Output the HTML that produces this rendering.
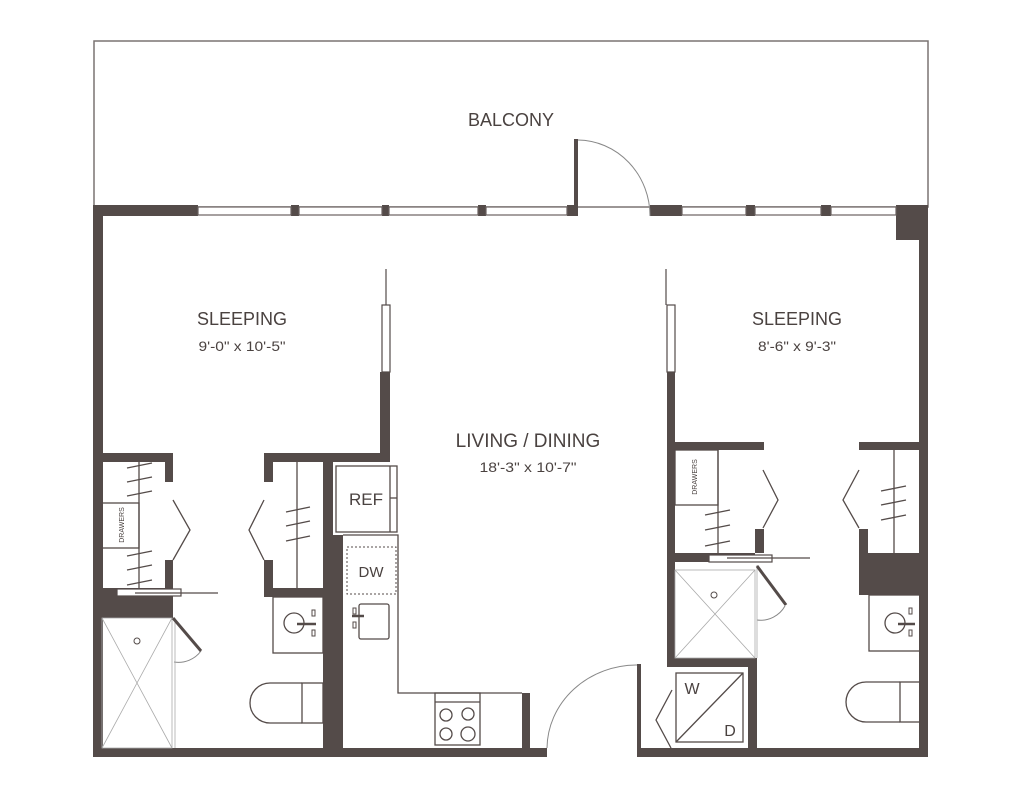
<!DOCTYPE html>
<html><head><meta charset="utf-8"><style>
html,body{margin:0;padding:0;background:#fff;}
svg{display:block;}
text{font-family:"Liberation Sans",sans-serif;fill:#4a4240;}
</style></head><body>
<svg width="1024" height="799" viewBox="0 0 1024 799" xmlns="http://www.w3.org/2000/svg">
<g fill="none" stroke="#7a7372" stroke-width="1.5">
<rect x="94" y="41" width="834" height="166"/>
</g>
<g fill="#544b49">
<rect x="93" y="205" width="105" height="11"/>
<rect x="291" y="205" width="8" height="11"/>
<rect x="382" y="205" width="7" height="11"/>
<rect x="478" y="205" width="8" height="11"/>
<rect x="567" y="205" width="10" height="11"/>
<rect x="574" y="139" width="4" height="77"/>
<rect x="650" y="205" width="32" height="11"/>
<rect x="746" y="205" width="9" height="11"/>
<rect x="821" y="205" width="10" height="11"/>
<rect x="896" y="205" width="32" height="35"/>
<rect x="93" y="205" width="10" height="552"/>
<rect x="919" y="205" width="9" height="552"/>
<rect x="93" y="748" width="454" height="9"/>
<rect x="637" y="748" width="291" height="9"/>
<rect x="380" y="372" width="10" height="90"/>
<rect x="264" y="453" width="126" height="9"/>
<rect x="93" y="453" width="80" height="9"/>
<rect x="165" y="453" width="8" height="29"/>
<rect x="165" y="560" width="8" height="28"/>
<rect x="264" y="453" width="9" height="29"/>
<rect x="264" y="560" width="9" height="28"/>
<rect x="93" y="588" width="80" height="30"/>
<rect x="264" y="588" width="60" height="9"/>
<rect x="323" y="453" width="10" height="304"/>
<rect x="323" y="535" width="20" height="222"/>
<rect x="522" y="693" width="8" height="64"/>
<rect x="637" y="664" width="4" height="93"/>
<rect x="667" y="372" width="8" height="295"/>
<rect x="667" y="442" width="97" height="8"/>
<rect x="859" y="442" width="69" height="8"/>
<rect x="755" y="529" width="9" height="24"/>
<rect x="667" y="553" width="88" height="9"/>
<rect x="859" y="529" width="9" height="24"/>
<rect x="859" y="553" width="69" height="42"/>
<rect x="667" y="658" width="90" height="9"/>
<rect x="748" y="658" width="9" height="99"/>
</g>
<g fill="#fff" stroke="#6a6260" stroke-width="1.2">
<rect x="198" y="207" width="93" height="8"/>
<rect x="299" y="207" width="83" height="8"/>
<rect x="389" y="207" width="89" height="8"/>
<rect x="486" y="207" width="81" height="8"/>
<rect x="682" y="207" width="64" height="8"/>
<rect x="755" y="207" width="66" height="8"/>
<rect x="831" y="207" width="65" height="8"/>
</g>
<g fill="none" stroke="#888" stroke-width="1">
<path d="M578 140 A73 76 0 0 1 650 216"/>
<path d="M637 665 A90 84 0 0 0 547 748"/>
<path d="M201 651 A28 28 0 0 1 174 662"/>
<path d="M785 606 A28 28 0 0 1 757 620"/>
</g>
<g stroke="#544b49" fill="#fff" stroke-width="1.2">
<line x1="386" y1="269" x2="386" y2="305"/>
<rect x="382" y="305" width="8" height="67"/>
<line x1="666" y1="269" x2="666" y2="305"/>
<rect x="667" y="305" width="8" height="67"/>
<rect x="117" y="589" width="64" height="7"/>
<line x1="135" y1="593" x2="218" y2="593"/>
<rect x="709" y="555" width="63" height="7"/>
<line x1="727" y1="558" x2="810" y2="558"/>
</g>
<g stroke="#544b49" fill="none" stroke-width="1.3">
<line x1="139" y1="462" x2="139" y2="588"/>
<rect x="102" y="503" width="37" height="45"/>
<path d="M127 468 L152 463 M127 482 L152 477 M127 496 L152 491 M127 556 L152 551 M127 570 L152 565 M127 585 L152 580"/>
<path d="M173 500 L190 530 L173 560"/>
<line x1="297" y1="462" x2="297" y2="588"/>
<path d="M286 512 L310 507 M286 526 L310 521 M286 541 L310 536"/>
<path d="M264 500 L249 530 L264 560"/>
<line x1="718" y1="450" x2="718" y2="553"/>
<rect x="675" y="450" width="43" height="55"/>
<path d="M705 515 L730 510 M705 530 L730 525 M705 546 L730 541"/>
<path d="M763 470 L778 500 L763 528"/>
<line x1="894" y1="450" x2="894" y2="553"/>
<path d="M881 491 L906 486 M881 505 L906 500 M881 520 L906 515"/>
<path d="M859 470 L843 500 L859 528"/>
<rect x="336" y="466" width="61" height="66"/>
<line x1="390" y1="466" x2="390" y2="532"/>
<line x1="390" y1="498" x2="397" y2="498"/>
<path d="M343 535 L398 535 L398 693 L522 693"/>
<rect x="359" y="604" width="30" height="35" rx="2"/>
<path d="M352 616 L364 616" stroke-width="2.5"/>
<rect x="435" y="693" width="45" height="52"/>
<line x1="435" y1="702" x2="480" y2="702"/>
<circle cx="446" cy="715" r="6"/><circle cx="468" cy="714" r="6"/>
<circle cx="446" cy="734" r="6"/><circle cx="468" cy="734" r="7"/>
<rect x="273" y="597" width="50" height="56"/>
<circle cx="294" cy="623" r="10"/>
<path d="M297 624 L316 624" stroke-width="2.5"/>
<rect x="302" y="683" width="21" height="40"/>
<path d="M302 683 L270 683 A20 20 0 0 0 270 723 L302 723"/>
<rect x="869" y="595" width="51" height="56"/>
<circle cx="895" cy="623" r="10"/>
<path d="M898 624 L915 624" stroke-width="2.5"/>
<rect x="900" y="682" width="20" height="40"/>
<path d="M900 682 L866 682 A20 20 0 0 0 866 722 L900 722"/>
<rect x="676" y="673" width="67" height="69"/>
<line x1="676" y1="742" x2="743" y2="673"/>
<path d="M672 690 L656 720 L671 748"/>
</g>
<g stroke="#544b49" fill="none" stroke-width="1" stroke-dasharray="2,2">
<rect x="347" y="547" width="49" height="47"/>
</g>
<g fill="#fff" stroke="#544b49" stroke-width="1">
<rect x="312" y="610" width="3" height="6"/><rect x="312" y="630" width="3" height="6"/>
<rect x="353" y="608" width="3" height="6"/><rect x="353" y="622" width="3" height="6"/>
<rect x="909" y="608" width="3" height="6"/><rect x="909" y="630" width="3" height="6"/>
</g>
<g stroke="#aaa" fill="none" stroke-width="0.8">
<rect x="102" y="618" width="70" height="130"/>
<path d="M102 618 L172 748 M172 618 L102 748"/>
<line x1="175" y1="618" x2="175" y2="748"/>
<rect x="675" y="570" width="80" height="88"/>
<path d="M675 570 L755 658 M755 570 L675 658"/>
<line x1="757" y1="565" x2="757" y2="658"/>
</g>
<g stroke="#544b49" fill="none">
<circle cx="137" cy="641" r="3" stroke-width="1"/>
<circle cx="714" cy="595" r="3" stroke-width="1"/>
<line x1="173" y1="618" x2="201" y2="651" stroke-width="3"/>
<line x1="757" y1="566" x2="786" y2="605" stroke-width="3"/>
</g>
<text x="511" y="126" font-size="18" text-anchor="middle">BALCONY</text>
<text x="242" y="325" font-size="18" text-anchor="middle">SLEEPING</text>
<text x="242" y="351" font-size="14" text-anchor="middle" textLength="87" lengthAdjust="spacingAndGlyphs">9'-0" x 10'-5"</text>
<text x="797" y="325" font-size="18" text-anchor="middle">SLEEPING</text>
<text x="797" y="351" font-size="14" text-anchor="middle" textLength="78" lengthAdjust="spacingAndGlyphs">8'-6" x 9'-3"</text>
<text x="528" y="447" font-size="19" text-anchor="middle">LIVING / DINING</text>
<text x="528" y="472" font-size="14" text-anchor="middle" textLength="97" lengthAdjust="spacingAndGlyphs">18'-3" x 10'-7"</text>
<text x="366" y="505" font-size="17" text-anchor="middle">REF</text>
<text x="371" y="577" font-size="15" text-anchor="middle">DW</text>
<text x="692" y="694" font-size="16" text-anchor="middle">W</text>
<text x="730" y="736" font-size="16" text-anchor="middle">D</text>
<text transform="translate(124,525) rotate(-90)" font-size="7" text-anchor="middle">DRAWERS</text>
<text transform="translate(697,477) rotate(-90)" font-size="7" text-anchor="middle">DRAWERS</text>
</svg>
</body></html>
